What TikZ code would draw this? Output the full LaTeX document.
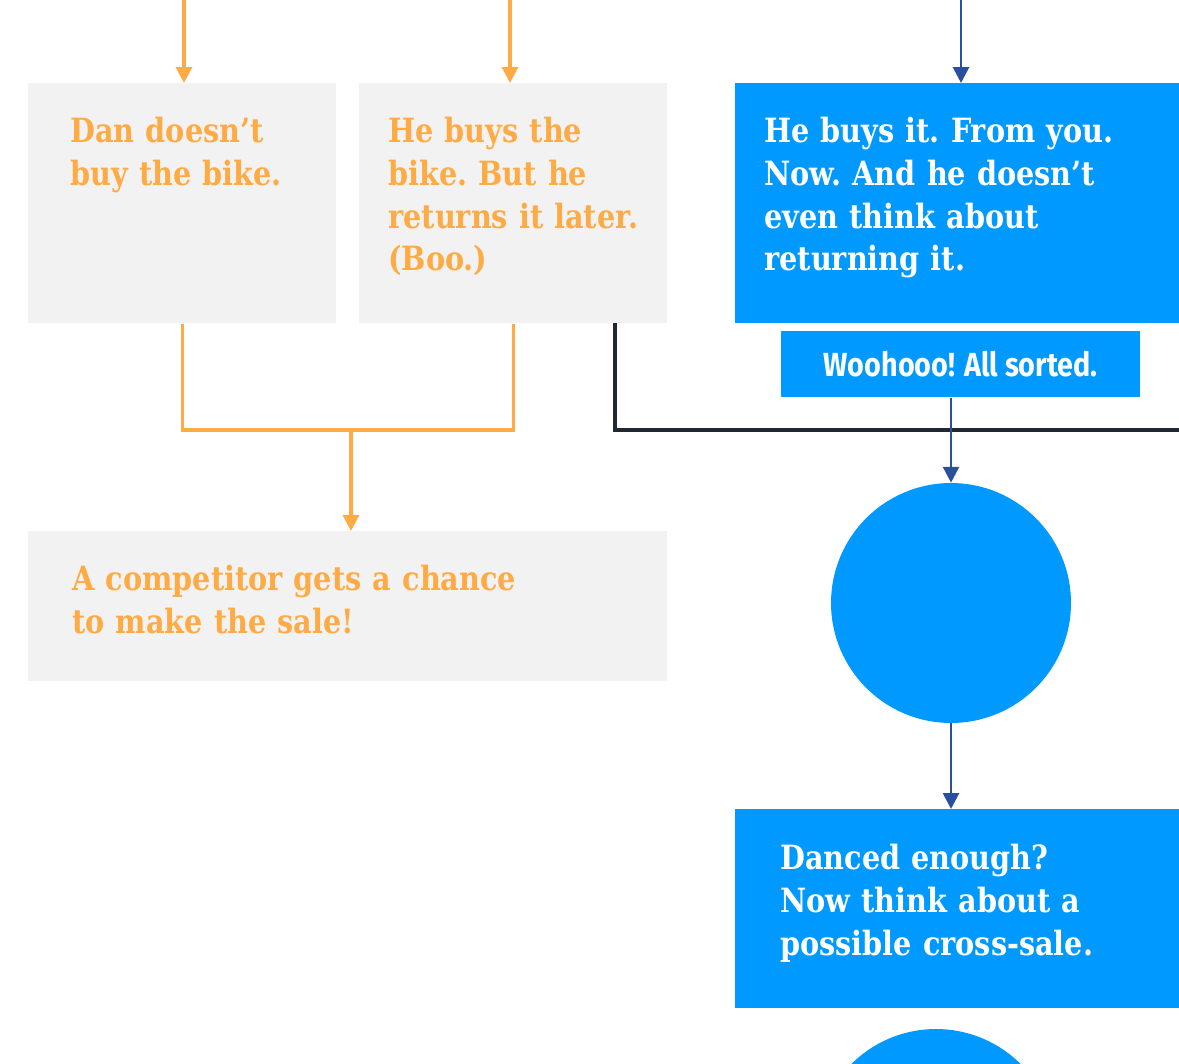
\documentclass[tikz,border=0pt]{standalone}
\usepackage{fontspec}
\setmainfont{DejaVu Serif}[FakeStretch=0.86]
\newfontfamily\woofont{Fira Sans}[FakeStretch=0.86]
\usetikzlibrary{arrows.meta}
\definecolor{boxgrey}{HTML}{F2F2F2}
\definecolor{bikeorange}{HTML}{FFAB45}
\definecolor{happyblue}{HTML}{0099FF}
\definecolor{arrowblue}{HTML}{2A4F9E}
\definecolor{lostblack}{HTML}{222831}
\newcommand\slabtext{\frenchspacing\bfseries\fontsize{19}{24.4}\selectfont}

\begin{document}
\begin{tikzpicture}[x=0.02cm, y=-0.02cm,
					greybox/.style={fill=boxgrey, text=bikeorange, anchor=north west, align=left, inner ysep=0pt, font=\slabtext},
					bluebox/.style={fill=happyblue, text=white, anchor=north west, align=left, inner ysep=0pt, font=\slabtext},
					sortedbox/.style={fill=happyblue, text=white, anchor=north west, align=center, inner sep=0pt, font=\woofont\bfseries\fontsize{19}{22}\selectfont},
					roundnode/.style={circle, fill=happyblue, inner sep=0pt, minimum size=4.8cm},
					orangearrow/.style={draw=bikeorange, line width=1.8pt, -{Triangle[width=9pt,length=9pt]}},
					orangeline/.style={draw=bikeorange, line width=1.8pt},
					bluearrow/.style={draw=arrowblue, line width=1.6pt, -{Triangle[width=9pt,length=9pt]}},
					blackline/.style={draw=lostblack, line width=1.9pt},
					]
					\clip (0,0) rectangle (1179,1064);
					%Nodes
					\node[greybox, inner xsep=0.84cm, text width=4.48cm, text height=1.18cm, text depth=3.62cm] (dontbuy) at (28,83)
						{Dan doesn’t\\buy the bike.};
					\node[greybox, inner xsep=0.58cm, text width=5.0cm, text height=1.18cm, text depth=3.62cm] (returns) at (359,83)
						{He buys the\\bike. But he\\returns it later.\\(Boo.)};
					\node[bluebox, inner xsep=0.58cm, text width=8.04cm, text height=1.18cm, text depth=3.62cm] (buysit) at (735,83)
						{He buys it. From you.\\Now. And he doesn’t\\even think about\\returning it.};
					\node[sortedbox, minimum width=7.18cm, minimum height=1.32cm] (sorted) at (781,331) {Woohooo! All sorted.};
					\node[roundnode] (dance) at (951,603) {};
					\node[greybox, inner xsep=0.88cm, text width=11.02cm, text height=1.18cm, text depth=1.82cm] (competitor) at (28,531)
						{A competitor gets a chance\\to make the sale!};
					\node[bluebox, inner xsep=0.9cm, text width=7.4cm, text height=1.2cm, text depth=2.78cm] (crosssale) at (735,809)
						{Danced enough?\\Now think about a\\possible cross-sale.};
					\node[roundnode] (next) at (936,1149) {};

					%Lines
					\coordinate (inA) at (184,0);
					\coordinate (inB) at (510,0);
					\coordinate (inC) at (961,0);
					\coordinate (join) at (351,430);
					\coordinate (loststart) at (615,323);
					\coordinate (lostend) at (1200,430);

					\draw[orangearrow] (inA) -- (inA |- dontbuy.north);
					\draw[orangearrow] (inB) -- (inB |- returns.north);
					\draw[bluearrow] (inC) -- (inC |- buysit.north);

					\draw[orangeline] (dontbuy.south) |- (join) -| (returns.south);
					\draw[orangearrow] (join) -- (join |- competitor.north);

					\draw[blackline] (loststart) |- (lostend);

					\draw[bluearrow] (dance.north |- sorted.south) -- (dance.north);
					\draw[bluearrow] (dance.south) -- (dance.south |- crosssale.north);
				\end{tikzpicture}
\end{document}
